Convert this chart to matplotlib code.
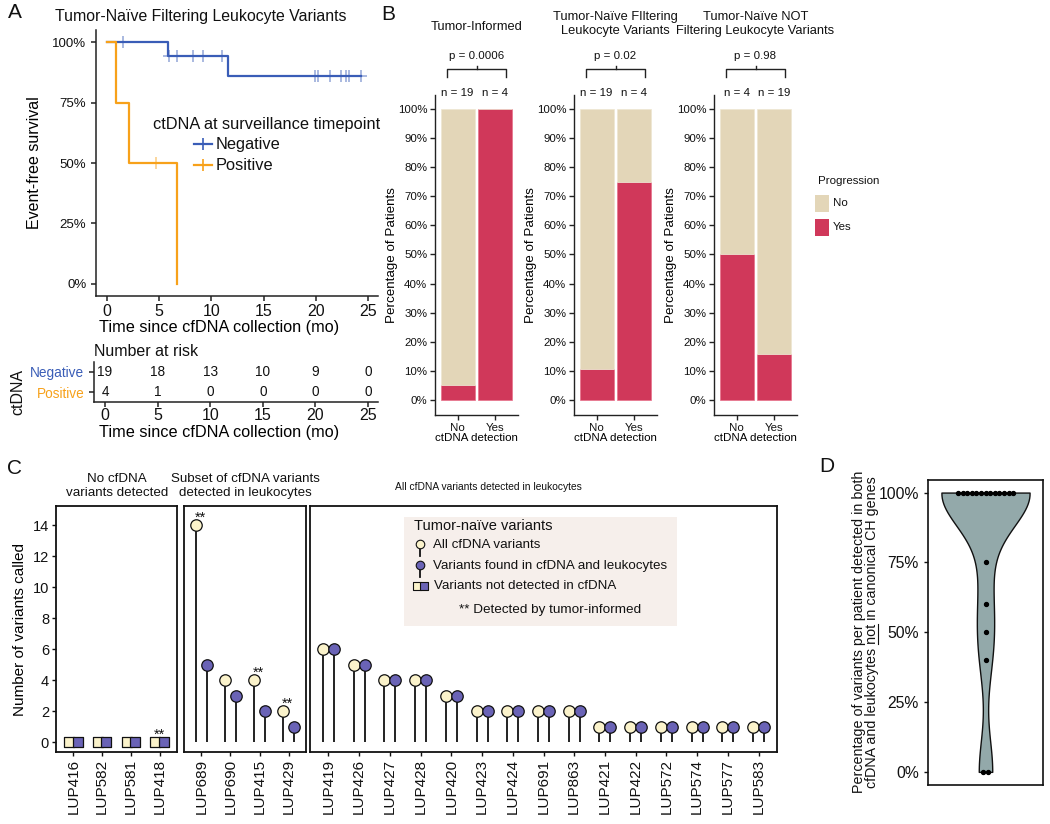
import numpy as np
import matplotlib
matplotlib.use('Agg')
import matplotlib.pyplot as plt
from matplotlib import font_manager
from matplotlib.patches import Rectangle
from matplotlib.lines import Line2D

W, H = 1050, 824

installed = {f.name for f in font_manager.fontManager.ttflist}
if 'Liberation Sans Narrow' in installed:
    NARROW, NS = 'Liberation Sans Narrow', 1.0
else:
    NARROW, NS = 'Liberation Sans', 0.88

plt.rcParams['font.family'] = ['Liberation Sans', 'DejaVu Sans']
plt.rcParams['text.color'] = '#111111'
plt.rcParams['xtick.color'] = '#111111'
plt.rcParams['ytick.color'] = '#111111'

BLUE = '#3A5DB7'
ORANGE = '#F7A11A'
RED = '#D0385A'
BEIGE = '#E3D6B8'
CREAM = '#FBF3CB'
PURPLE = '#6A63B6'
VIOLIN = '#93A9AA'
LEG_BG = '#F6EFEB'

# ---- data: panel A (time in months, 1 = event, 0 = censored)
neg_time = [1.55, 5.8, 5.9, 6.7, 8.2, 9.2, 11.0, 11.0, 11.55, 19.9,
            20.2, 20.2, 21.4, 22.4, 22.9, 22.9, 23.2, 23.2, 24.3]
neg_event = [0, 1, 0, 0, 0, 0, 0, 0, 1, 0,
             0, 0, 0, 0, 0, 0, 0, 0, 0]
pos_time = [0.86, 2.07, 4.7, 6.7]
pos_event = [1, 1, 0, 1]
km_ticks = [0, 5, 10, 15, 20, 25]
neg_risk = [19, 18, 13, 10, 9, 0]
pos_risk = [4, 1, 0, 0, 0, 0]

# ---- data: panel B
b_titles = ['Tumor-Informed', 'Tumor-Naïve FIltering\nLeukocyte Variants',
            'Tumor-Naïve NOT\nFiltering Leukocyte Variants']
b_cats = ['No', 'Yes']
b_n = [[19, 4], [19, 4], [4, 19]]
b_yes = [[5.3, 100], [10.5, 75], [50, 15.8]]
b_pvals = ['p = 0.0006', 'p = 0.02', 'p = 0.98']

# ---- data: panel C
c_strips = ['No cfDNA\nvariants detected', 'Subset of cfDNA variants\ndetected in leukocytes',
            'All cfDNA variants detected in leukocytes']
none_ids = ['LUP416', 'LUP582', 'LUP581', 'LUP418']
subset_ids = ['LUP689', 'LUP690', 'LUP415', 'LUP429']
subset_all = [14, 4, 4, 2]
subset_both = [5, 3, 2, 1]
full_ids = ['LUP419', 'LUP426', 'LUP427', 'LUP428', 'LUP420', 'LUP423', 'LUP424', 'LUP691',
            'LUP863', 'LUP421', 'LUP422', 'LUP572', 'LUP574', 'LUP577', 'LUP583']
full_all = [6, 5, 4, 4, 3, 2, 2, 2, 2, 1, 1, 1, 1, 1, 1]
full_both = [6, 5, 4, 4, 3, 2, 2, 2, 2, 1, 1, 1, 1, 1, 1]
ti_detected = ['LUP418', 'LUP689', 'LUP415', 'LUP429']

# ---- data: panel D (percent per patient)
d_values = [100, 100, 100, 100, 100, 100, 100, 100, 100, 100, 100, 100, 100,
            75, 60, 50, 40, 0, 0]
d_label1 = 'Percentage of variants per patient detected in both'
d_label2 = 'cfDNA and leukocytes not in canonical CH genes'


def add_ax(l, t, r, b):
    return fig.add_axes([l / W, 1 - b / H, (r - l) / W, (b - t) / H])


def ftext(x, y, s, **kw):
    return fig.text(x / W, 1 - y / H, s, **kw)


def km(times, events):
    t = np.array(times, float)
    e = np.array(events)
    xs, ys, cx, cy = [0.0], [1.0], [], []
    s = 1.0
    for ti in np.unique(t):
        here = t == ti
        d = e[here].sum()
        at_risk = (t >= ti).sum()
        if d:
            s *= 1 - d / at_risk
        xs.append(ti)
        ys.append(s)
        if here.sum() - d > 0:
            cx.append(ti)
            cy.append(s)
    return xs, ys, cx, cy


def classic(ax, lw=1.1):
    for side in ['top', 'right']:
        ax.spines[side].set_visible(False)
    for side in ['left', 'bottom']:
        ax.spines[side].set_linewidth(lw)
        ax.spines[side].set_color('#222222')
    ax.tick_params(length=3.5, width=lw, color='#222222')


fig = plt.figure(figsize=(W / 100, H / 100), dpi=100)

# ================= Panel A =================
KM_XLIM = (-1.05, 25.96)
axA = add_ax(96, 30, 378, 296)
for times, events, col in [(neg_time, neg_event, BLUE), (pos_time, pos_event, ORANGE)]:
    xs, ys, cx, cy = km(times, events)
    axA.step(xs, ys, where='post', color=col, lw=1.6)
    axA.plot(cx, cy, ls='none', marker='+', ms=8, mew=1.1, color=col, alpha=0.55)
axA.set_xlim(*KM_XLIM)
axA.set_ylim(-0.05, 1.05)
axA.set_xticks(km_ticks)
axA.set_yticks([0, 0.25, 0.5, 0.75, 1])
axA.set_yticklabels(['0%', '25%', '50%', '75%', '100%'])
axA.tick_params(labelsize=9.5)
axA.tick_params(axis='x', labelsize=11.5, pad=2)
classic(axA)
axA.set_xlabel('Time since cfDNA collection (mo)', fontsize=11.7)
axA.xaxis.set_label_coords((219 - 96) / 282, -(320 - 296) / 266)
axA.set_ylabel('Event-free survival', fontsize=11.5, labelpad=7)
ftext(55, 17, 'Tumor-Naïve Filtering Leukocyte Variants', fontsize=11.4, va='center')
ftext(15, 13, 'A', fontsize=15, ha='center', va='center')

ftext(153, 124, 'ctDNA at surveillance timepoint', fontsize=11.8, va='center')
for yy, lab, col in [(144, 'Negative', BLUE), (165, 'Positive', ORANGE)]:
    fig.add_artist(Line2D([194 / W, 212 / W], [1 - yy / H] * 2, color=col, lw=1.6))
    fig.add_artist(Line2D([203 / W], [1 - yy / H], marker='+', ms=9, mew=1.2, color=col))
    ftext(216, yy, lab, fontsize=11.8, va='center')

# risk table
axT = add_ax(94, 362, 378, 402)
axT.set_xlim(*KM_XLIM)
axT.set_ylim(-0.5, 1.5)
for t, a, b in zip(km_ticks, neg_risk, pos_risk):
    axT.text(t, 1, str(a), ha='center', va='center', fontsize=9.8)
    axT.text(t, 0, str(b), ha='center', va='center', fontsize=9.8)
axT.set_xticks(km_ticks)
axT.set_yticks([1, 0])
axT.set_yticklabels(['Negative', 'Positive'], fontsize=9.8)
for lab, col in zip(axT.get_yticklabels(), [BLUE, ORANGE]):
    lab.set_color(col)
axT.tick_params(axis='x', labelsize=11.5)
classic(axT)
axT.tick_params(axis='x', pad=1)
axT.set_xlabel('Time since cfDNA collection (mo)', fontsize=11.7)
axT.xaxis.set_label_coords((219 - 94) / 284, -(425 - 402) / 40)
ftext(94, 351, 'Number at risk', fontsize=11.5, va='center')
ftext(18, 392, 'ctDNA', fontsize=11.5, rotation=90, ha='center', va='center')

# ================= Panel B =================
ftext(388, 15, 'B', fontsize=15, ha='center', va='center')
b_left = [435, 574, 714]
bx = np.arange(1, len(b_cats) + 1)
fs_b = 9.4 * NS
for k in range(3):
    ax = add_ax(b_left[k], 95, b_left[k] + 83, 415)
    yes = np.array(b_yes[k]) / 100
    ax.bar(bx, yes, width=0.9, color=RED, edgecolor='#E8708A', lw=0.5)
    ax.bar(bx, 1 - yes, bottom=yes, width=0.9, color=BEIGE, edgecolor='#EEE6D2', lw=0.5)
    ax.set_xlim(0.4, 2.6)
    ax.set_ylim(-0.0515, 1.048)
    ax.set_xticks(bx)
    ax.set_xticklabels(b_cats, fontname=NARROW, fontsize=fs_b)
    ax.set_yticks(np.arange(0, 1.01, 0.1))
    ax.set_yticklabels([f'{v}%' for v in range(0, 101, 10)], fontname=NARROW, fontsize=fs_b)
    classic(ax, lw=1.0)
    ax.tick_params(axis='x', pad=2)
    ax.tick_params(axis='y', pad=2)
    ax.set_xlabel('ctDNA detection', fontname=NARROW, fontsize=fs_b, labelpad=0)
    ax.set_ylabel('Percentage of Patients', fontsize=9.6, labelpad=0)
    for xi, n in zip(bx, b_n[k]):
        ax.text(xi, 1.055, f'n = {n}', ha='center', va='center', fontname=NARROW,
                fontsize=fs_b, clip_on=False)
    ax.plot([0.71, 0.71, 2.29, 2.29], [1.11, 1.138, 1.138, 1.11], color='#222222',
            lw=1.0, clip_on=False)
    ax.plot([1.5, 1.5], [1.138, 1.148], color='#222222', lw=1.0, clip_on=False)
    ax.text(1.5, 1.182, b_pvals[k], ha='center', va='center', fontname=NARROW,
            fontsize=fs_b, clip_on=False)
    cy = 27 if '\n' not in b_titles[k] else 24
    ftext(b_left[k] + 41.5, cy, b_titles[k], ha='center', va='center', fontname=NARROW,
          fontsize=10.6 * NS, linespacing=1.2)

ftext(818, 181, 'Progression', fontname=NARROW, fontsize=9.4 * NS, va='center')
for yy, lab, col in [(195, 'No', BEIGE), (219, 'Yes', RED)]:
    fig.add_artist(Rectangle((815 / W, 1 - (yy + 17) / H), 14 / W, 17 / H,
                             facecolor=col, edgecolor='none'))
    ftext(833, yy + 8.5, lab, fontname=NARROW, fontsize=9.4 * NS, va='center')

# ================= Panel C =================
ftext(15, 468, 'C', fontsize=15, ha='center', va='center')
c_boxes = [(56, 177), (184, 306), (310, 777)]
c_ids = [none_ids, subset_ids, full_ids]
c_all = [None, subset_all, full_all]
c_both = [None, subset_both, full_both]
for k, (l, r) in enumerate(c_boxes):
    ax = add_ax(l, 506, r, 752)
    ids = c_ids[k]
    x = np.arange(1, len(ids) + 1)
    if c_all[k] is None:
        ax.scatter(x - 0.15, np.zeros(len(x)), marker='s', s=48, color=CREAM,
                   edgecolor='#111111', lw=0.9, zorder=3)
        ax.scatter(x + 0.15, np.zeros(len(x)), marker='s', s=48, color=PURPLE,
                   edgecolor='#111111', lw=0.9, zorder=3)
        for xi, pid in zip(x, ids):
            if pid in ti_detected:
                ax.text(xi, 0.2, '**', ha='center', va='baseline', fontsize=10.5)
    else:
        ya = np.array(c_all[k])
        yb = np.array(c_both[k])
        ax.vlines(x - 0.18, 0, ya, color='#111111', lw=1.3, zorder=2)
        ax.vlines(x + 0.18, 0, yb, color='#111111', lw=1.3, zorder=2)
        ax.scatter(x - 0.18, ya, s=68, color=CREAM, edgecolor='#111111', lw=0.9, zorder=3)
        ax.scatter(x + 0.18, yb, s=68, color=PURPLE, edgecolor='#111111', lw=0.9, zorder=3)
        for xi, yi, pid in zip(x, ya, ids):
            if pid in ti_detected:
                ax.text(xi - 0.03, yi + 0.2, '**', ha='center', va='baseline', fontsize=10.5)
    ax.set_xlim(0.4, len(ids) + 0.6)
    ax.set_ylim(-0.645, 15.23)
    ax.set_xticks(x)
    ax.set_xticklabels(ids, rotation=90, fontsize=11)
    ax.set_yticks(np.arange(0, 15, 2))
    for sp in ax.spines.values():
        sp.set_linewidth(1.3)
        sp.set_color('#111111')
    ax.tick_params(length=3, width=1.0, pad=2)
    if k == 0:
        ax.tick_params(axis='y', labelsize=10.5)
        ax.set_ylabel('Number of variants called', fontsize=11, labelpad=4)
    else:
        ax.tick_params(axis='y', left=False, labelleft=False)

ftext(117, 486, c_strips[0], fontsize=9.6, ha='center', va='center', linespacing=1.15)
ftext(245, 486, c_strips[1], fontsize=9.6, ha='center', va='center', linespacing=1.15)
ftext(488, 487, c_strips[2], fontname=NARROW, fontsize=8.4 * NS / 0.82 * 0.82, ha='center', va='center')

# legend for C
axL = add_ax(404, 517, 677, 626)
axL.set_xlim(0, 273)
axL.set_ylim(109, 0)
axL.set_facecolor(LEG_BG)
axL.set_xticks([])
axL.set_yticks([])
for sp in axL.spines.values():
    sp.set_visible(False)
axL.text(10, 9, 'Tumor-naïve variants', fontsize=10.5, va='center')
for yy, col, lab in [(28, CREAM, 'All cfDNA variants'),
                     (49, PURPLE, 'Variants found in cfDNA and leukocytes')]:
    axL.plot([16, 16], [yy, yy + 11], color='#111111', lw=1.3)
    axL.scatter([16], [yy - 1], s=38, color=col, edgecolor='#111111', lw=0.8, zorder=3)
    axL.text(29, yy, lab, fontsize=9.6, va='center')
axL.scatter([12.5], [69], marker='s', s=38, color=CREAM, edgecolor='#111111', lw=0.8)
axL.scatter([19.5], [69], marker='s', s=38, color=PURPLE, edgecolor='#111111', lw=0.8)
axL.text(30, 69, 'Variants not detected in cfDNA', fontsize=9.6, va='center')
axL.text(55, 93, '** Detected by tumor-informed', fontsize=9.7, va='center')

# ================= Panel D =================
ftext(827, 467, 'D', fontsize=15, ha='center', va='center')
axD = add_ax(928, 480, 1043, 785)
d = np.array(d_values) / 100
sd = np.std(d, ddof=1)
iqr = np.subtract(*np.percentile(d, [75, 25]))
bw = 0.9 * min(sd, iqr / 1.34) * len(d) ** -0.2
parts = axD.violinplot(d, positions=[1], widths=0.92, showextrema=False, bw_method=bw / sd)
for body in parts['bodies']:
    body.set_facecolor(VIOLIN)
    body.set_edgecolor('#111111')
    body.set_linewidth(1.0)
    body.set_alpha(1)
vals, counts = np.unique(d, return_counts=True)
for v, c in zip(vals, counts):
    offs = (np.arange(c) - (c - 1) / 2) * 0.048
    axD.scatter(1 + offs, np.full(c, v), s=8, color='black', zorder=3)
axD.set_xlim(0.4, 1.6)
axD.set_ylim(-0.047, 1.045)
axD.set_xticks([])
axD.set_yticks([0, 0.25, 0.5, 0.75, 1])
axD.set_yticklabels(['0%', '25%', '50%', '75%', '100%'], fontsize=11.3)
axD.tick_params(axis='y', length=3, width=1.0)
for sp in axD.spines.values():
    sp.set_linewidth(1.2)
    sp.set_color('#111111')

# two-line y label with "not" underlined
lab_fs = 10.3
lab_cy = 632
kw = dict(fontsize=lab_fs, rotation=90, rotation_mode='anchor', ha='center', va='baseline')
ftext(863, lab_cy, d_label1, **kw)
ftext(876, lab_cy, d_label2, **kw)
rend = fig.canvas.get_renderer()


def text_w(s):
    t = fig.text(0, 0, s, fontsize=lab_fs)
    w = t.get_window_extent(rend).width
    t.remove()
    return w


cut = d_label2.index('not') + 3
w_full = text_w(d_label2)
w_upto = text_w(d_label2[:cut])
w_not = text_w('not')
y_start = lab_cy + w_full / 2
y0, y1 = y_start - (w_upto - w_not), y_start - w_upto
fig.add_artist(Line2D([878 / W, 878 / W], [1 - y0 / H, 1 - y1 / H], color='#111111', lw=0.8))

fig.savefig('out.png', dpi=100)
